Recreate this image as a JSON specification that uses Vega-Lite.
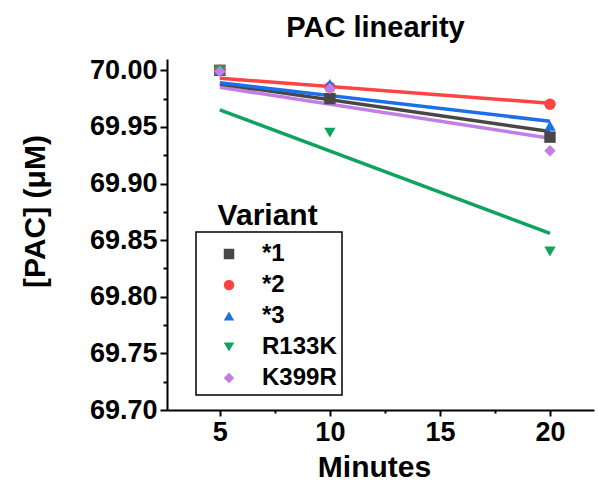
{
  "$schema": "https://vega.github.io/schema/vega-lite/v6.json",
  "autosize": "none",
  "width": 427,
  "height": 351,
  "padding": {"left": 167, "top": 59, "right": 4, "bottom": 73},
  "background": "white",
  "config": {
    "view": {"stroke": null},
    "font": "Liberation Sans",
    "axis": {"grid": false, "domainColor": "black", "domainWidth": 2, "tickColor": "black", "tickWidth": 2, "labelColor": "black", "titleColor": "black", "labelFont": "Liberation Sans", "titleFont": "Liberation Sans", "labelFontWeight": "bold", "titleFontWeight": "bold", "labelFontSize": 27, "titleFontSize": 30},
    "legend": {"strokeColor": "black", "strokeWidth": 1.5, "fillColor": "white", "padding": 5, "labelFontSize": 24, "labelFontWeight": "bold", "labelColor": "black", "labelFont": "Liberation Sans", "symbolSize": 110, "rowPadding": 7, "labelLimit": 200, "labelOffset": 21, "symbolOffset": 16, "symbolStrokeWidth": 0, "titleFontSize": 1, "titlePadding": 4}
  },
  "title": {"text": "PAC linearity", "font": "Liberation Sans", "fontSize": 29, "fontWeight": "bold", "color": "black", "anchor": "middle", "dx": -5, "baseline": "alphabetic", "offset": 22, "dy": 32},
  "datasets": {
    "points": [
      {"Variant": "*1", "Minutes": 5, "PAC": 70.0},
      {"Variant": "*1", "Minutes": 10, "PAC": 69.975},
      {"Variant": "*1", "Minutes": 20, "PAC": 69.941},
      {"Variant": "*2", "Minutes": 5, "PAC": 70.0},
      {"Variant": "*2", "Minutes": 10, "PAC": 69.985},
      {"Variant": "*2", "Minutes": 20, "PAC": 69.970},
      {"Variant": "*3", "Minutes": 5, "PAC": 70.0},
      {"Variant": "*3", "Minutes": 10, "PAC": 69.988},
      {"Variant": "*3", "Minutes": 20, "PAC": 69.951},
      {"Variant": "R133K", "Minutes": 5, "PAC": 70.0},
      {"Variant": "R133K", "Minutes": 10, "PAC": 69.945},
      {"Variant": "R133K", "Minutes": 20, "PAC": 69.840},
      {"Variant": "K399R", "Minutes": 5, "PAC": 69.999},
      {"Variant": "K399R", "Minutes": 10, "PAC": 69.984},
      {"Variant": "K399R", "Minutes": 20, "PAC": 69.929}
    ],
    "fits": [
      {"Variant": "K399R", "Minutes": 5, "PAC": 69.985},
      {"Variant": "K399R", "Minutes": 20, "PAC": 69.940},
      {"Variant": "R133K", "Minutes": 5, "PAC": 69.965},
      {"Variant": "R133K", "Minutes": 20, "PAC": 69.856},
      {"Variant": "*1", "Minutes": 5, "PAC": 69.988},
      {"Variant": "*1", "Minutes": 20, "PAC": 69.946},
      {"Variant": "*3", "Minutes": 5, "PAC": 69.989},
      {"Variant": "*3", "Minutes": 20, "PAC": 69.955},
      {"Variant": "*2", "Minutes": 5, "PAC": 69.993},
      {"Variant": "*2", "Minutes": 20, "PAC": 69.971}
    ],
    "label": [{"text": "Variant", "Minutes": 4.9, "PAC": 69.863}]
  },
  "encoding": {
    "x": {"field": "Minutes", "type": "quantitative",
      "scale": {"domain": [2.6, 22.0], "nice": false, "zero": false},
      "axis": {"title": "Minutes", "values": [5, 7.5, 10, 12.5, 15, 17.5, 20],
        "labelExpr": "datum.value % 5 == 0 ? format(datum.value, 'd') : ''",
        "tickSize": {"condition": {"test": "datum.value % 5 == 0", "value": 6}, "value": 3},
        "labelPadding": 3, "titleX": 207, "titleY": 66, "titleBaseline": "alphabetic", "titleFontSize": 30}},
    "y": {"field": "PAC", "type": "quantitative",
      "scale": {"domain": [69.7, 70.01], "nice": false, "zero": false},
      "axis": {"title": "[PAC] (μM)",
        "values": [69.7, 69.725, 69.75, 69.775, 69.8, 69.825, 69.85, 69.875, 69.9, 69.925, 69.95, 69.975, 70.0],
        "labelExpr": "round(datum.value*1000) % 50 == 0 ? format(datum.value, '.2f') : ''",
        "tickSize": {"condition": {"test": "round(datum.value*1000) % 50 == 0", "value": 7}, "value": 4},
        "labelPadding": 3, "titleX": -132, "titleY": 152, "titleAngle": -90, "titleAlign": "center", "titleBaseline": "middle"}},
    "color": {"field": "Variant", "type": "nominal",
      "scale": {"domain": ["*1", "*2", "*3", "R133K", "K399R"], "range": ["#474747", "#fd4343", "#1c6fe6", "#0fa35e", "#c27ee4"]},
      "legend": {"title": " ", "orient": "none", "legendX": 29, "legendY": 173, "symbolType": "circle"}}
  },
  "layer": [
    {
      "data": {"name": "fits"},
      "mark": {"type": "line", "strokeWidth": 3.5}
    },
    {
      "data": {"name": "points"},
      "mark": {"type": "point", "filled": true, "opacity": 1, "size": 130},
      "encoding": {
        "shape": {"field": "Variant", "type": "nominal",
          "scale": {"domain": ["*1", "*2", "*3", "R133K", "K399R"], "range": ["square", "circle", "triangle-up", "triangle-down", "diamond"]},
          "legend": {"title": " ", "orient": "none", "legendX": 29, "legendY": 173}}
      }
    },
    {
      "data": {"name": "label"},
      "mark": {"type": "text", "font": "Liberation Sans", "fontSize": 30, "fontWeight": "bold", "color": "black", "align": "left", "baseline": "alphabetic"},
      "encoding": {"text": {"field": "text"}, "color": {"value": "black"}}
    }
  ]
}
